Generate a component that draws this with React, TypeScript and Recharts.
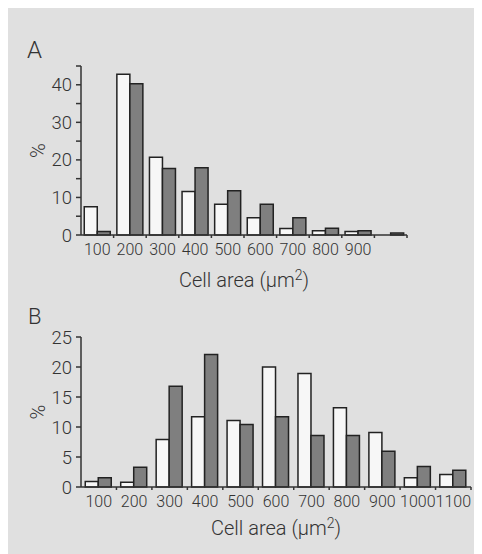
import { BarChart, Bar, XAxis, YAxis, Label } from 'recharts';

// panel A
const binsA = ['100', '200', '300', '400', '500', '600', '700', '800', '900', ''];
const whiteA = [7.5, 42.8, 20.7, 11.6, 8.2, 4.6, 1.7, 1.15, 0.9, 0];
const grayA = [0.9, 40.3, 17.7, 17.9, 11.8, 8.2, 4.6, 1.8, 1.15, 0.5];
const ticksA = [0, 5, 10, 15, 20, 25, 30, 35, 40, 45];

// panel B
const binsB = ['100', '200', '300', '400', '500', '600', '700', '800', '900', '1000', '1100'];
const whiteB = [0.9, 0.8, 7.9, 11.7, 11.1, 20, 18.9, 13.2, 9.1, 1.55, 2.1];
const grayB = [1.55, 3.3, 16.8, 22.1, 10.4, 11.7, 8.6, 8.6, 5.95, 3.4, 2.8];
const ticksB = [0, 5, 10, 15, 20, 25];

const dataA = binsA.map((bin, i) => ({ bin, white: whiteA[i], gray: grayA[i] }));
const dataB = binsB.map((bin, i) => ({ bin, white: whiteB[i], gray: grayB[i] }));

const INK = '#333';
const FONT = 'Roboto, "Liberation Sans", Arial, sans-serif';
const W = 300;

const XTick = (props: any) => {
    const { x, y, payload } = props;
    const off = payload && payload.offset ? payload.offset : 0;
    return (
        <g>
            {off ? <line x1={x + off} x2={x + off} y1={y - 9} y2={y - 6} stroke={INK} strokeWidth={1.5} /> : null}
            <text x={x} y={y} dy="0.71em" textAnchor="middle" fill={INK} fontSize={16} fontWeight={W} fontFamily={FONT}>
                {payload.value}
            </text>
        </g>
    );
};

const YTick = (props: any) => {
    const { x, y, payload, every } = props;
    if (payload.value % every !== 0) return <g />;
    return (
        <text x={x} y={y} dy="0.355em" textAnchor="end" fill={INK} fontSize={18.5} fontWeight={W} fontFamily={FONT}>
            {payload.value}
        </text>
    );
};

const xTitle = (below: number) => (p: any) => {
    const vb = p.viewBox;
    return (
        <text x={vb.x + vb.width / 2} y={vb.y + below} textAnchor="middle" fill={INK} fontSize={20} fontWeight={W} fontFamily={FONT}>
            <tspan>Cell area (μm</tspan>
            <tspan dy={-7} fontSize={14}>2</tspan>
            <tspan dy={7}>)</tspan>
        </text>
    );
};

const yTitle = (p: any) => {
    const vb = p.viewBox;
    const cx = vb.x + 6.5;
    const cy = vb.y + vb.height / 2;
    return (
        <text x={cx} y={cy} transform={`rotate(-90, ${cx}, ${cy})`} textAnchor="middle" dominantBaseline="central"
            fill={INK} fontSize={20} fontWeight={W} fontFamily={FONT}>
            %
        </text>
    );
};

function Panel({ data, ticks, every, top, height, margin, gap, titleBelow }: any) {
    return (
        <div style={{ position: 'absolute', left: 0, top }}>
            <BarChart width={474} height={height} data={data} margin={margin} barCategoryGap={gap} barGap={0}>
                <XAxis
                    dataKey="bin"
                    interval={0}
                    height={60}
                    tickLine={false}
                    tickSize={3}
                    tickMargin={6}
                    axisLine={{ stroke: INK, strokeWidth: 1.5 }}
                    tick={<XTick />}
                >
                    <Label content={xTitle(titleBelow)} />
                </XAxis>
                <YAxis
                    width={50}
                    domain={[0, ticks[ticks.length - 1]]}
                    ticks={ticks}
                    interval={0}
                    tickSize={5}
                    tickMargin={4}
                    axisLine={{ stroke: INK, strokeWidth: 1.5 }}
                    tickLine={{ stroke: INK, strokeWidth: 1.5 }}
                    tick={<YTick every={every} />}
                >
                    <Label content={yTitle} />
                </YAxis>
                <Bar dataKey="white" fill="#f7f7f7" stroke="#222" strokeWidth={1.5} isAnimationActive={false} />
                <Bar dataKey="gray" fill="#7f7f7f" stroke="#222" strokeWidth={1.5} isAnimationActive={false} />
            </BarChart>
        </div>
    );
}

export default function App() {
    return (
        <div style={{ position: 'relative', width: 474, height: 546, background: '#e0e0e0', fontFamily: FONT, fontWeight: W, color: INK }}>
            <Panel data={dataA} ticks={ticksA} every={10} top={0} height={300}
                margin={{ top: 58, right: 75, bottom: 13, left: 23 }} gap="10%" titleBelow={52} />
            <Panel data={dataB} ticks={ticksB} every={5} top={280} height={266}
                margin={{ top: 49, right: 11, bottom: 7, left: 23 }} gap="12%" titleBelow={48} />
            <span style={{ position: 'absolute', left: 19, top: 29.7, fontSize: 24, lineHeight: 1 }}>A</span>
            <span style={{ position: 'absolute', left: 20, top: 298.4, fontSize: 22, lineHeight: 1 }}>B</span>
        </div>
    );
}
